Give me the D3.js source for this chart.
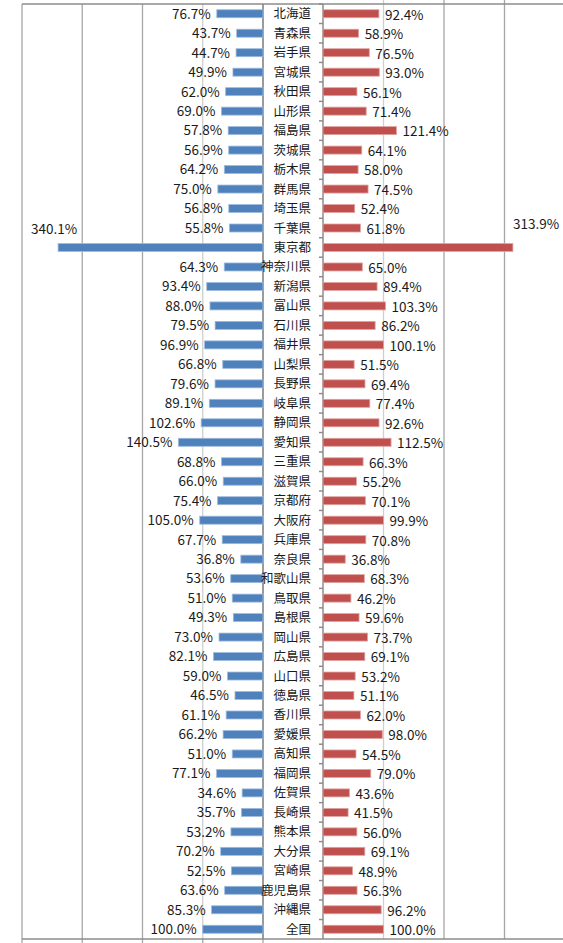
<!DOCTYPE html>
<html>
<head>
<meta charset="utf-8">
<title>都道府県 比較</title>
<style>
body { margin:0; background:#fff; }
.grid line { stroke:#a6a6a6; stroke-width:1.3; }
.grid line.hundred { stroke:#cfcfcf; }
.frame { stroke:#8c8c8c; stroke-width:1.5; fill:none; }
.name { font-family:"Noto Sans CJK JP", sans-serif; font-size:12.5px; fill:#1a1a1a; }
.val { font-family:"Noto Sans CJK JP", "Liberation Sans", sans-serif; font-size:13.5px; fill:#1a1a1a; }
</style>
</head>
<body>
<div id="chart"></div>
<script src="https://cdn.jsdelivr.net/npm/d3@7"></script>
<script>

var prefs = ["北海道","青森県","岩手県","宮城県","秋田県","山形県","福島県","茨城県","栃木県","群馬県",
	"埼玉県","千葉県","東京都","神奈川県","新潟県","富山県","石川県","福井県","山梨県","長野県",
	"岐阜県","静岡県","愛知県","三重県","滋賀県","京都府","大阪府","兵庫県","奈良県","和歌山県",
	"鳥取県","島根県","岡山県","広島県","山口県","徳島県","香川県","愛媛県","高知県","福岡県",
	"佐賀県","長崎県","熊本県","大分県","宮崎県","鹿児島県","沖縄県","全国"];

var leftValues = [76.7,43.7,44.7,49.9,62.0,69.0,57.8,56.9,64.2,75.0,
	56.8,55.8,340.1,64.3,93.4,88.0,79.5,96.9,66.8,79.6,
	89.1,102.6,140.5,68.8,66.0,75.4,105.0,67.7,36.8,53.6,
	51.0,49.3,73.0,82.1,59.0,46.5,61.1,66.2,51.0,77.1,
	34.6,35.7,53.2,70.2,52.5,63.6,85.3,100.0];

var rightValues = [92.4,58.9,76.5,93.0,56.1,71.4,121.4,64.1,58.0,74.5,
	52.4,61.8,313.9,65.0,89.4,103.3,86.2,100.1,51.5,69.4,
	77.4,92.6,112.5,66.3,55.2,70.1,99.9,70.8,36.8,68.3,
	46.2,59.6,73.7,69.1,53.2,51.1,62.0,98.0,54.5,79.0,
	43.6,41.5,56.0,69.1,48.9,56.3,96.2,100.0];

var gridTicks = [0,100,200,300,400];

var rows = prefs.map(function(p,i){ return {name:p, left:leftValues[i], right:rightValues[i]}; });

var width = 563, height = 943;
var plotTop = 4, plotBottom = 939;

var svg = d3.select("#chart").append("svg")
	.attr("width",width)
	.attr("height",height);

var xL = d3.scaleLinear().domain([0,400]).range([263,22]);
var xR = d3.scaleLinear().domain([0,400]).range([323,565]);
var y = d3.scaleBand().domain(prefs).range([plotTop,plotBottom]);

var barH = 8;

// gridlines
var grid = svg.append("g").attr("class","grid");
grid.selectAll(".gl").data(gridTicks).enter().append("line")
	.classed("hundred",function(d){ return d==100; })
	.attr("x1",function(d){ return xL(d); }).attr("x2",function(d){ return xL(d); })
	.attr("y1",plotTop).attr("y2",plotBottom);
grid.selectAll(".gr").data(gridTicks.filter(function(d){ return d>0 && d<400; })).enter().append("line")
	.classed("hundred",function(d){ return d==100; })
	.attr("x1",function(d){ return xR(d); }).attr("x2",function(d){ return xR(d); })
	.attr("y1",plotTop-4).attr("y2",plotBottom);
grid.selectAll(".gb").data(gridTicks).enter().append("line")
	.attr("x1",function(d){ return xL(d); }).attr("x2",function(d){ return xL(d); })
	.attr("y1",plotBottom).attr("y2",plotBottom+4);

// frame lines
svg.append("line").attr("class","frame").attr("x1",22).attr("x2",width).attr("y1",plotTop).attr("y2",plotTop);
svg.append("line").attr("class","frame").attr("x1",22).attr("x2",width).attr("y1",plotBottom).attr("y2",plotBottom);
svg.append("line").attr("class","frame").attr("x1",xL(0)).attr("x2",xL(0)).attr("y1",plotTop).attr("y2",plotBottom);
svg.append("line").attr("class","frame").attr("x1",xR(0)).attr("x2",xR(0)).attr("y1",plotTop).attr("y2",plotBottom);

// small ticks on right axis
svg.append("g").selectAll("line").data(prefs).enter().append("line")
	.attr("class","frame")
	.attr("x1",xR(0)-4).attr("x2",xR(0))
	.attr("y1",function(d){ return y(d); }).attr("y2",function(d){ return y(d); });

// bars
svg.append("g").selectAll("rect").data(rows).enter().append("rect")
	.attr("x",function(d){ return xL(d.left); })
	.attr("y",function(d){ return y(d.name)+y.bandwidth()/2-barH/2; })
	.attr("width",function(d){ return xL(0)-xL(d.left); })
	.attr("height",barH)
	.attr("fill","#4f81bd")
	.attr("stroke","#9fbbdc").attr("stroke-width",0.8);

svg.append("g").selectAll("rect").data(rows).enter().append("rect")
	.attr("x",xR(0))
	.attr("y",function(d){ return y(d.name)+y.bandwidth()/2-barH/2; })
	.attr("width",function(d){ return xR(d.right)-xR(0); })
	.attr("height",barH)
	.attr("fill","#c0504d")
	.attr("stroke","#e0a3a1").attr("stroke-width",0.8);

// category names
svg.append("g").selectAll("text").data(rows).enter().append("text")
	.attr("class","name")
	.attr("x",311)
	.attr("y",function(d){ return y(d.name)+y.bandwidth()/2; })
	.attr("dy","0.36em")
	.attr("text-anchor","end")
	.text(function(d){ return d.name; });

// value labels
svg.append("g").selectAll("text").data(rows).enter().append("text")
	.attr("class","val")
	.attr("x",function(d){ return d.left>300 ? xL(d.left)+19 : xL(d.left)-6; })
	.attr("y",function(d){ return y(d.name)+y.bandwidth()/2 - (d.left>300 ? 18 : 0); })
	.attr("dy","0.36em")
	.attr("text-anchor","end")
	.text(function(d){ return d.left.toFixed(1)+"%"; });

svg.append("g").selectAll("text").data(rows).enter().append("text")
	.attr("class","val")
	.attr("x",function(d){ return d.right>300 ? xR(d.right) : xR(d.right)+6; })
	.attr("y",function(d){ return y(d.name)+y.bandwidth()/2 + (d.right>300 ? -23 : 1); })
	.attr("dy","0.36em")
	.attr("text-anchor","start")
	.text(function(d){ return d.right.toFixed(1)+"%"; });

</script>
</body>
</html>
